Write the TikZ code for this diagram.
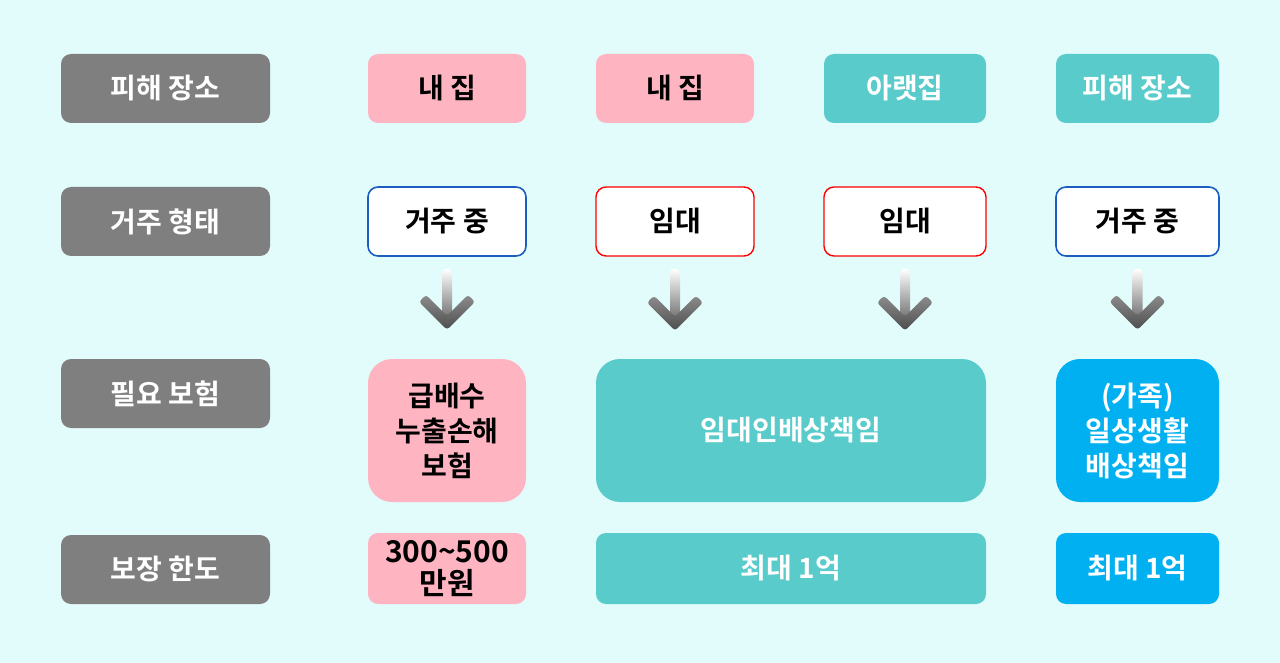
\documentclass[tikz,border=0pt]{standalone}
\usepackage{fontspec}
\newfontfamily\kr{Noto Sans CJK KR}[BoldFont={Noto Sans CJK KR Bold}]
\usetikzlibrary{calc}
\definecolor{bgc}{HTML}{E2FCFC}
\definecolor{hdrgray}{HTML}{7F7F7F}
\definecolor{pinkc}{HTML}{FFB5C1}
\definecolor{tealc}{HTML}{59CBCB}
\definecolor{bluec}{HTML}{00B0F0}
\definecolor{blueline}{HTML}{1A5FC0}
\definecolor{redline}{HTML}{FF0000}
\tikzset{
  base/.style={rectangle, rounded corners=10pt, align=center, inner sep=0pt,
    font=\kr\bfseries\fontsize{28}{35}\selectfont},
  hdr/.style={base, fill=hdrgray, text=white, minimum width=209pt, minimum height=69pt},
  pinkbox/.style={base, fill=pinkc, text=black},
  tealbox/.style={base, fill=tealc, text=white},
  bluebox/.style={base, fill=bluec, text=white},
  bluering/.style={base, fill=white, draw=blueline, line width=1.6pt, text=black},
  redring/.style={base, fill=white, draw=redline, line width=1.4pt, text=black},
  big/.style={rounded corners=24pt, minimum height=143pt},
  small/.style={minimum height=69pt},
  low/.style={minimum height=71pt},
}
\newcommand\mkarrow[2]{%
  \shade[top color=white, bottom color=gray!85!black, rounded corners=4pt]
    ($(#1)+(-5,0)$) rectangle ($(#2)+(5,-10)$);
  \shade[top color=gray!90, bottom color=gray!60!black, rounded corners=3pt]
    (#2) -- ($(#2)+(-28,-28)$) -- ($(#2)+(-21,-35)$) -- ($(#2)+(0,-14)$)
    -- ($(#2)+(21,-35)$) -- ($(#2)+(28,-28)$) -- cycle;
}
\begin{document}
\begin{tikzpicture}[x=1pt,y=-1pt]
\useasboundingbox (0,0) rectangle (1280,663);
\fill[bgc] (0,0) rectangle (1280,663);
% header column
\node[hdr] (h1) at (165.5,88.5) {피해 장소};
\node[hdr] (h2) at (165.5,221.5) {거주 형태};
\node[hdr] (h3) at (165.5,393.5) {필요 보험};
\node[hdr] (h4) at (165.5,569.5) {보장 한도};
% row 1
\node[pinkbox, small, minimum width=158pt] (r1c1) at (447,88.5) {내 집};
\node[pinkbox, small, minimum width=158pt] (r1c2) at (675,88.5) {내 집};
\node[tealbox, small, minimum width=162pt] (r1c3) at (905,88.5) {아랫집};
\node[tealbox, small, minimum width=163pt] (r1c4) at (1137.5,88.5) {피해 장소};
% row 2
\node[bluering, small, minimum width=158pt] (r2c1) at (447,221.5) {거주 중};
\node[redring, small, minimum width=158pt] (r2c2) at (675,221.5) {임대};
\node[redring, small, minimum width=162pt] (r2c3) at (905,221.5) {임대};
\node[bluering, small, minimum width=163pt] (r2c4) at (1137.5,221.5) {거주 중};
% row 3
\node[pinkbox, big, minimum width=158pt] (r3c1) at (447,430.5) {급배수\\누출손해\\보험};
\node[tealbox, big, minimum width=390pt] (r3c23) at (791,430.5) {임대인배상책임};
\node[bluebox, big, minimum width=163pt] (r3c4) at (1137.5,430.5) {(가족)\\일상생활\\배상책임};
% row 4
\node[pinkbox, low, minimum width=158pt, font=\kr\bfseries\fontsize{30}{32}\selectfont] (r4c1) at (447,568.5) {300\textasciitilde500\\만원};
\node[tealbox, low, minimum width=390pt] (r4c23) at (791,568.5) {최대 1억};
\node[bluebox, low, minimum width=163pt] (r4c4) at (1137.5,568.5) {최대 1억};
% arrows
\coordinate (a1s) at ($(r2c1.south)+(0,12)$);
\coordinate (a1e) at ($(r3c1.north)+(0,-29)$);
\coordinate (a2s) at ($(r2c2.south)+(0,12)$);
\coordinate (a2e) at ($(r2c2.south)+(0,74)$);
\coordinate (a3s) at ($(r2c3.south)+(0,12)$);
\coordinate (a3e) at ($(r2c3.south)+(0,74)$);
\coordinate (a4s) at ($(r2c4.south)+(0,12)$);
\coordinate (a4e) at ($(r3c4.north)+(0,-29)$);
\mkarrow{a1s}{a1e}
\mkarrow{a2s}{a2e}
\mkarrow{a3s}{a3e}
\mkarrow{a4s}{a4e}
\end{tikzpicture}
\end{document}
